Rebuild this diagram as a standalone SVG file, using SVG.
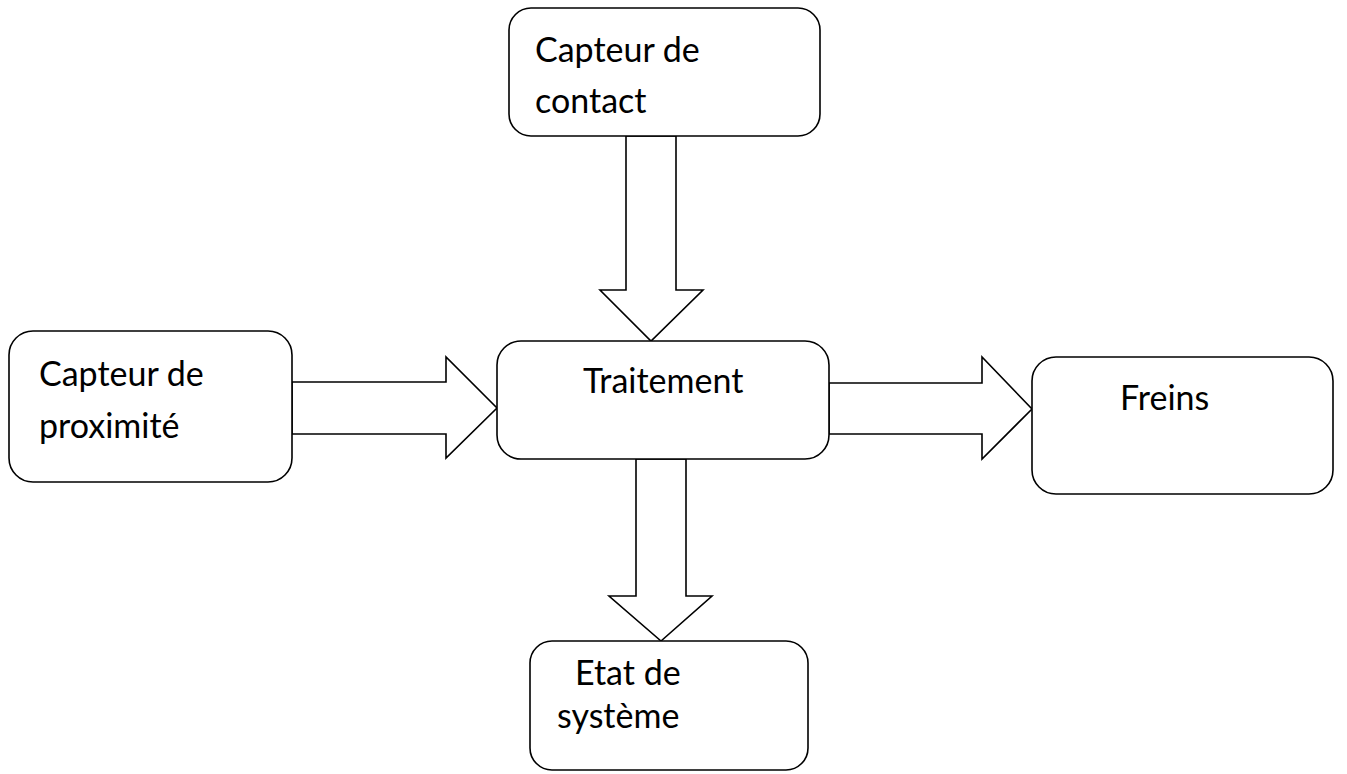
<svg xmlns="http://www.w3.org/2000/svg" width="1347" height="774" viewBox="0 0 1347 774">
<style>
.box{fill:#fff;stroke:#000;stroke-width:1.6}
.arr{fill:#fff;stroke:#000;stroke-width:1.6;stroke-linejoin:miter}
text{font-family:"Lato","Liberation Sans",sans-serif;font-size:34px;fill:#000}
</style>
<rect width="1347" height="774" fill="#fff"/>
<g id="connectors">
<polygon class="arr" points="626,136 676,136 676,290 703,290 651,341 600,290 626,290"/>
<polygon class="arr" points="292,382 446,382 446,357 497,408 446,458 446,434 292,434"/>
<polygon class="arr" points="829,383 982,383 982,357 1032,409 982,459 982,434 829,434"/>
<polygon class="arr" points="636,459 686,459 686,596 712,596 661,641 609,596 636,596"/>
</g>
<g id="node-contact">
<rect class="box" x="509" y="8" width="311" height="128" rx="22"/>
<text x="535" y="62">Capteur de</text>
<text x="535" y="113">contact</text>
</g>
<g id="node-proximite">
<rect class="box" x="9" y="331" width="283" height="151" rx="24"/>
<text x="39" y="386">Capteur de</text>
<text x="39" y="438">proximité</text>
</g>
<g id="node-traitement">
<rect class="box" x="497" y="341" width="332" height="118" rx="24"/>
<text x="583" y="393">Traitement</text>
</g>
<g id="node-freins">
<rect class="box" x="1032" y="357" width="301" height="137" rx="24"/>
<text x="1120" y="410">Freins</text>
</g>
<g id="node-etat">
<rect class="box" x="530" y="641" width="278" height="129" rx="22"/>
<text x="575" y="685">Etat de</text>
<text x="557" y="728">système</text>
</g>
</svg>
